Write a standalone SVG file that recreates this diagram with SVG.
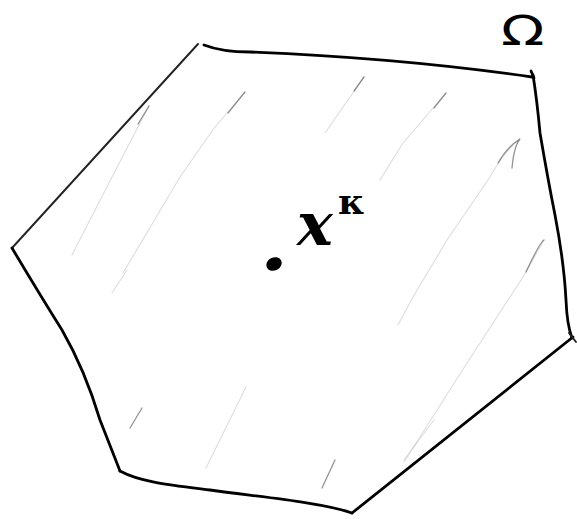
<svg xmlns="http://www.w3.org/2000/svg" width="577" height="519" viewBox="0 0 577 519">
<style>
.edge{fill:none;stroke:#000;stroke-width:2.8;stroke-linecap:round;stroke-linejoin:round}
.thin{fill:none;stroke:#222;stroke-width:1.9;stroke-linecap:round}
.hatch{fill:none;stroke:#aaa;stroke-width:1.1;stroke-linecap:round;opacity:0.4}
.hatchd{fill:none;stroke:#666;stroke-width:1.3;stroke-linecap:round;opacity:0.7}
.lbl{font-family:"DejaVu Serif","Liberation Serif",serif;fill:#000}
</style>
<rect width="577" height="519" fill="#fff"/>
<g id="hatching">
<path class="hatch" d="M149,106 Q118,165 72,255"/>
<path class="hatchd" d="M149,106 L138,124"/>
<path class="hatch" d="M245,92 L215,127 L180,177 L123,273"/>
<path class="hatchd" d="M245,92 L228,113"/>
<path class="hatch" d="M364,77 L325,133"/>
<path class="hatchd" d="M364,77 L354,91"/>
<path class="hatch" d="M446,93 L403,143 L380,180"/>
<path class="hatchd" d="M446,93 L434,108"/>
<path class="hatch" d="M520,139 Q505,150 490,177 L447,240 L413,297 L398,325"/>
<path class="hatchd" d="M512,168 Q514,146 520,139 Q508,146 498,163"/>
<path class="hatch" d="M544,240 L523,277 L508,300 L467,363 L404,462"/>
<path class="hatchd" d="M544,240 Q540,242 526,272"/>
<path class="hatch" d="M127,270 L112,293"/>
<path class="hatchd" d="M142,408 L130,428"/>
<path class="hatch" d="M246,387 L206,468"/>
<path class="hatchd" d="M335,460 L322,488"/>
<path class="hatch" d="M434,420 L404,460"/>
</g>
<g id="domain">
<path class="thin" d="M198,44 L12,248"/>
<path class="edge" d="M204,45 Q222,52 250,52 Q400,58 532,77"/>
<path class="edge" d="M531,71 L534,78"/>
<path class="edge" d="M533,75 Q537,100 540,133 Q548,180 555,215 Q564,262 566,300 Q567,325 572,338"/>
<path class="edge" d="M573,337 L352,513"/>
<path class="thin" d="M569,333 L576,342"/>
<path class="edge" d="M352,513 C320,502 260,497 210,490 C170,485 140,482 120,471"/>
<path class="edge" d="M120,471 L100,420 Q85,370 62,330 Q40,295 12,248"/>
</g>
<g id="point">
<ellipse cx="274" cy="264" rx="8" ry="6.5" transform="rotate(-28 274 264)" fill="#000"/>
</g>
<g id="label-x">
<text class="lbl" x="297" y="245" font-size="60" font-style="italic" font-weight="bold">x</text>
<text class="lbl" x="338" y="214" font-size="36" font-weight="bold" font-family="DejaVu Sans, sans-serif">κ</text>
</g>
<g id="label-omega">
<text x="0" y="0" font-family="DejaVu Sans, sans-serif" font-size="40" transform="translate(501,45) scale(1.42,1)" fill="#000">Ω</text>
</g>
</svg>
